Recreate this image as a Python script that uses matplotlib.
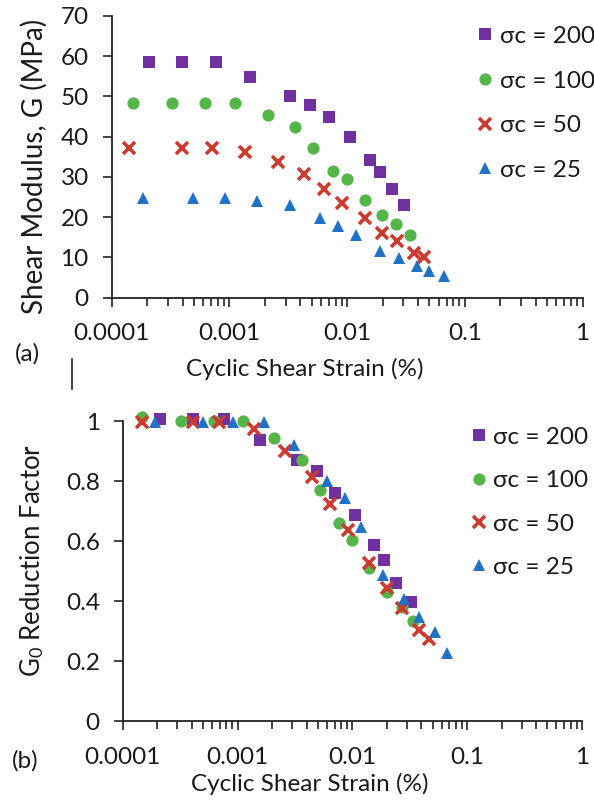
import matplotlib
matplotlib.use("Agg")
import matplotlib.pyplot as plt
from matplotlib.ticker import FixedLocator, NullFormatter

plt.rcParams['font.family'] = ['Lato', 'Open Sans', 'DejaVu Sans']
plt.rcParams['mathtext.fontset'] = 'custom'
plt.rcParams['mathtext.rm'] = 'Lato'
plt.rcParams['mathtext.it'] = 'Lato:italic'

# ---- data: shear modulus G (MPa) vs cyclic shear strain (%) ----
strain_200 = [0.000209, 0.000399, 0.000776, 0.00151, 0.00328, 0.0048, 0.00705,
              0.01057, 0.0155, 0.0191, 0.0242, 0.0304]
G_200 = [58.5, 58.5, 58.5, 54.8, 50.2, 48.0, 44.8, 39.9, 34.2, 31.3, 26.9, 23.1]

strain_100 = [0.000151, 0.000324, 0.000618, 0.00111, 0.00213, 0.0036, 0.00508,
              0.00752, 0.00995, 0.01416, 0.01977, 0.0262, 0.0344]
G_100 = [48.3, 48.3, 48.3, 48.3, 45.4, 42.5, 37.3, 31.6, 29.4, 24.3, 20.5, 18.2, 15.6]

strain_50 = [0.000141, 0.000394, 0.000718, 0.00135, 0.00259, 0.00431, 0.0064,
             0.0091, 0.0141, 0.0199, 0.0267, 0.0372, 0.0453]
G_50 = [37.3, 37.3, 37.3, 36.2, 33.7, 30.8, 27.0, 23.6, 19.7, 16.2, 14.2, 11.2, 10.2]

strain_25 = [0.000184, 0.000489, 0.00092, 0.0017, 0.00324, 0.00584, 0.0083,
             0.0120, 0.0189, 0.0277, 0.0393, 0.0497, 0.0670]
G_25 = [24.7, 24.7, 24.7, 24.0, 23.1, 19.7, 17.8, 15.5, 11.7, 9.9, 8.0, 6.6, 5.4]

# ---- data: G0 reduction factor vs cyclic shear strain (%) ----
rstrain_200 = [0.000211, 0.000412, 0.000767, 0.00158, 0.00327, 0.00489, 0.00711,
               0.01047, 0.01546, 0.0190, 0.0240, 0.0324]
R_200 = [1.007, 1.007, 1.007, 0.936, 0.870, 0.833, 0.761, 0.687, 0.587, 0.536, 0.461, 0.397]

rstrain_100 = [0.000146, 0.000324, 0.000618, 0.00111, 0.00209, 0.00362, 0.0052,
               0.0076, 0.00993, 0.01406, 0.0200, 0.0269, 0.0340]
R_100 = [1.012, 1.0, 1.0, 1.0, 0.944, 0.870, 0.770, 0.660, 0.604, 0.509, 0.430, 0.381, 0.334]

rstrain_50 = [0.000148, 0.000407, 0.00069, 0.0014, 0.00259, 0.00442, 0.00635,
              0.00923, 0.01396, 0.0199, 0.0271, 0.0383, 0.0469]
R_50 = [0.998, 0.998, 0.998, 0.972, 0.901, 0.812, 0.722, 0.637, 0.526, 0.442, 0.378, 0.303, 0.272]

rstrain_25 = [0.000192, 0.000498, 0.000908, 0.0017, 0.0031, 0.00598, 0.00863,
              0.0120, 0.0186, 0.0284, 0.0383, 0.0525, 0.0662]
R_25 = [0.996, 0.996, 0.996, 0.996, 0.920, 0.800, 0.744, 0.646, 0.487, 0.407, 0.346, 0.297, 0.226]

series_labels = ['σc = 200', 'σc = 100', 'σc = 50', 'σc = 25']
x_ticks = [0.0001, 0.001, 0.01, 0.1, 1]
x_ticklabels = ['0.0001', '0.001', '0.01', '0.1', '1']
top_yticks = [0, 10, 20, 30, 40, 50, 60, 70]
bot_yticks = [0, 0.2, 0.4, 0.6, 0.8, 1]
bot_yticklabels = ['0', '0.2', '0.4', '0.6', '0.8', '1']

colors = ['#7030A0', '#55B548', '#CC3A30', '#1F72C6']
styles = [dict(marker='s', ms=8.2, mew=0),
          dict(marker='o', ms=8.8, mew=0),
          dict(marker='x', ms=8.8, mew=2.6),
          dict(marker='^', ms=9, mew=0)]

FS = 17.5
TXT = '#1a1a1a'

fig = plt.figure(figsize=(5.94, 8.0), dpi=100)
ax1 = fig.add_axes([111.7 / 594, 1 - 297.7 / 800, (582.6 - 111.7) / 594, (297.7 - 16) / 800])
ax2 = fig.add_axes([122.7 / 594, 1 - 721 / 800, (581.9 - 122.7) / 594, (721 - 421) / 800])


def style_axes(ax):
    ax.set_xscale('log')
    ax.set_xlim(0.0001, 1)
    for s in ['top', 'right']:
        ax.spines[s].set_visible(False)
    for s in ['left', 'bottom']:
        ax.spines[s].set_linewidth(1.3)
        ax.spines[s].set_color('#222222')
    ax.xaxis.set_major_locator(FixedLocator(x_ticks))
    ax.set_xticklabels(x_ticklabels)
    minors = [m * d for d in [1e-4, 1e-3, 1e-2, 1e-1] for m in range(2, 10)]
    ax.xaxis.set_minor_locator(FixedLocator(minors))
    ax.xaxis.set_minor_formatter(NullFormatter())
    ax.tick_params(axis='both', which='major', direction='out', length=6.5, width=1.2,
                   color='#222222', labelsize=FS, labelcolor=TXT)
    ax.tick_params(axis='x', which='minor', direction='out', length=6, width=1.2,
                   color='#222222')
    ax.tick_params(axis='x', which='major', pad=12)
    ax.tick_params(axis='y', which='major', pad=10)


style_axes(ax1)
style_axes(ax2)

legend_kw = dict(loc='upper left', frameon=False, fontsize=FS, handlelength=0.6,
                 handletextpad=0.3, borderaxespad=0, labelcolor=TXT, borderpad=0.2)

# top panel
top_data = [(strain_200, G_200), (strain_100, G_100), (strain_50, G_50), (strain_25, G_25)]
for (xs, ys), c, st, lab in zip(top_data, colors, styles, series_labels):
    ax1.plot(xs, ys, linestyle='none', color=c, mec=c, mfc=c, label=lab, clip_on=False, **st)
ax1.set_ylim(0, 70)
ax1.set_yticks(top_yticks)
ax1.legend(bbox_to_anchor=(0.767, 0.982), labelspacing=0.97, **legend_kw)

# bottom panel
bot_data = [(rstrain_200, R_200), (rstrain_100, R_100), (rstrain_50, R_50), (rstrain_25, R_25)]
for (xs, ys), c, st, lab in zip(bot_data, colors, styles, series_labels):
    ax2.plot(xs, ys, linestyle='none', color=c, mec=c, mfc=c, label=lab, clip_on=False, **st)
ax2.set_ylim(0, 1)
ax2.set_yticks(bot_yticks)
ax2.set_yticklabels(bot_yticklabels)
ax2.legend(bbox_to_anchor=(0.749, 0.997), labelspacing=0.92, **legend_kw)

# axis titles and panel tags
fig.text(34 / 594, 1 - 166 / 800, 'Shear Modulus, G (MPa)', fontsize=20, color=TXT,
         rotation=90, ha='center', va='center')
fig.text(32 / 594, 1 - 560 / 800, r'G$_{\mathrm{0}}$ Reduction Factor', fontsize=18.5,
         color=TXT, rotation=90, ha='center', va='center')
fig.text(305 / 594, 1 - 369 / 800, 'Cyclic Shear Strain (%)', fontsize=FS, color=TXT,
         ha='center', va='center')
fig.text(310 / 594, 1 - 784 / 800, 'Cyclic Shear Strain (%)', fontsize=FS, color=TXT,
         ha='center', va='center')
fig.text(27 / 594, 1 - 354 / 800, '(a)', fontsize=FS, color=TXT, ha='center', va='center')
fig.text(25 / 594, 1 - 761 / 800, '(b)', fontsize=FS, color=TXT, ha='center', va='center')
fig.add_artist(plt.Line2D([72 / 594, 72 / 594], [1 - 359 / 800, 1 - 389 / 800],
                          color='#222222', lw=1.2))

fig.savefig('out.png', dpi=100)
